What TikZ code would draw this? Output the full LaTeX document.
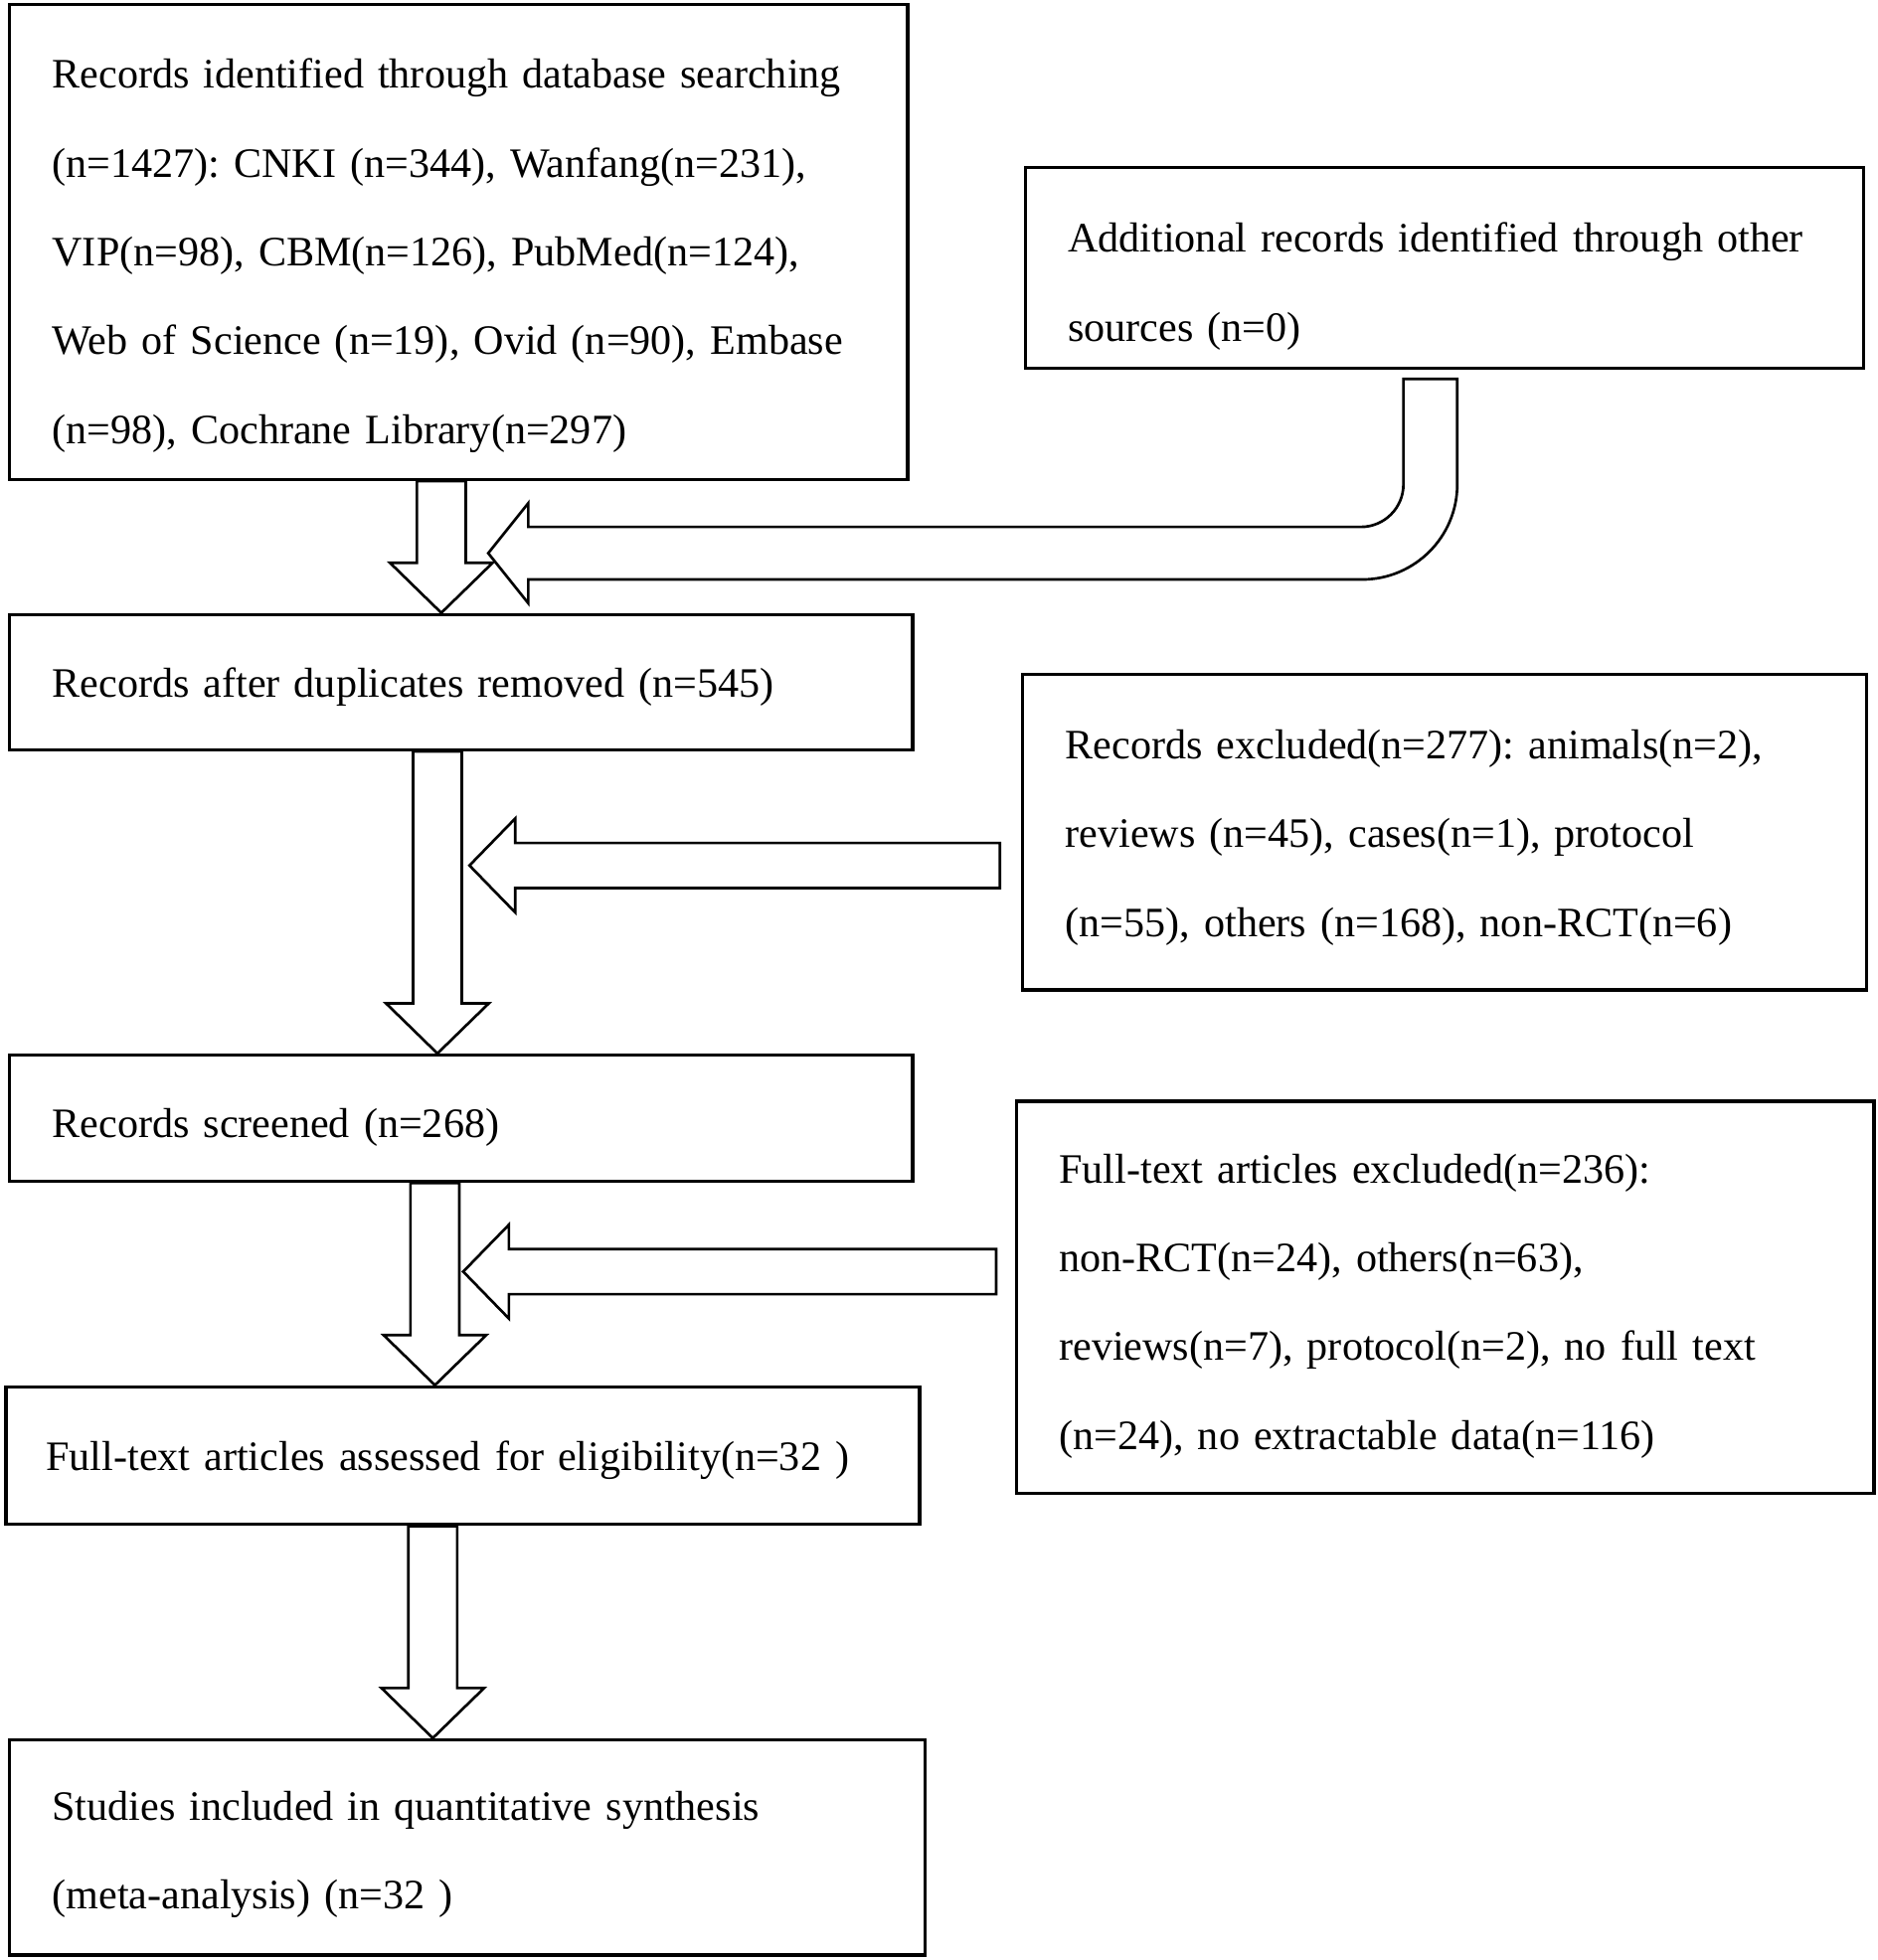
\documentclass[tikz,border=0pt]{standalone}
\usepackage{fontspec}
\setmainfont{Liberation Serif}
\usetikzlibrary{calc}

\tikzset{
  box/.style={draw, line width=0.75pt, align=left, inner xsep=3.4mm, inner ysep=0pt,
    font=\fontsize{9.52}{20.2}\selectfont\frenchspacing},
  blockarrow/.style={draw, fill=white, line width=0.6pt, line join=miter}
}

\newcommand{\blockdown}[2]{%
  \draw[blockarrow] let \p1=(#1), \p2=(#2) in
    (\x1-1.95mm,\y1) -- (\x1-1.95mm,\y2+4mm) -- (\x1-4.1mm,\y2+4mm) -- (\x1,\y2)
    -- (\x1+4.1mm,\y2+4mm) -- (\x1+1.95mm,\y2+4mm) -- (\x1+1.95mm,\y1) -- cycle;}
\newcommand{\blockleft}[2]{%
  \draw[blockarrow] let \p1=(#1), \p2=(#2) in
    (\x1,\y1+1.8mm) -- (\x2+3.65mm,\y1+1.8mm) -- (\x2+3.65mm,\y1+3.75mm) -- (\x2,\y1)
    -- (\x2+3.65mm,\y1-3.75mm) -- (\x2+3.65mm,\y1-1.8mm) -- (\x1,\y1-1.8mm) -- cycle;}

\begin{document}
\begin{tikzpicture}[x=1mm,y=-1mm]
  \useasboundingbox (0,0) rectangle (150,156.6);

  \node[box, text width=64.93mm, minimum height=37.95mm, text height=12.9pt] (ident) at (36.64,19.33)
    {Records identified through database searching\\
     (n=1427): CNKI (n=344), Wanfang(n=231),\\
     VIP(n=98), CBM(n=126), PubMed(n=124),\\
     Web of Science (n=19), Ovid (n=90), Embase\\
     (n=98), Cochrane Library(n=297)};
  \node[box, text width=60.15mm, minimum height=16mm, text height=15.1pt] (other) at (115.38,21.4)
    {Additional records identified through other\\ sources (n=0)};
  \node[box, text width=65.33mm, minimum height=10.8mm, text height=8.9pt] (dedup) at (36.84,54.5)
    {Records after duplicates removed (n=545)};
  \node[box, text width=60.6mm, minimum height=25.2mm, text height=8.9pt] (excl) at (115.4,66.5)
    {Records excluded(n=277): animals(n=2),\\
     reviews (n=45), cases(n=1), protocol\\
     (n=55), others (n=168), non-RCT(n=6)};
  \node[box, text width=65.33mm, minimum height=10.1mm, text height=10.6pt] (screen) at (36.84,89.35)
    {Records screened (n=268)};
  \node[box, text width=61.7mm, minimum height=31.3mm, text height=10.6pt] (ftexcl) at (115.45,103.65)
    {Full-text articles excluded(n=236):\\
     non-RCT(n=24), others(n=63),\\
     reviews(n=7), protocol(n=2), no full text\\
     (n=24), no extractable data(n=116)};
  \node[box, text width=66.58mm, minimum height=11mm, inner xsep=3.2mm, text height=8.9pt] (elig) at (36.97,116.3)
    {Full-text articles assessed for eligibility(n=32 )};
  \node[box, text width=66.33mm, minimum height=17.2mm, text height=10pt] (incl) at (37.34,147.6)
    {Studies included in quantitative synthesis\\ (meta-analysis) (n=32 )};

  \coordinate (in1) at (39.0,44.2);
  \coordinate (in2) at (37.5,69.15);
  \coordinate (in3) at (37.0,101.6);

  \blockdown{[xshift=-1.39mm]ident.south}{dedup.north}
  \draw[blockarrow] let \p1=([xshift=-1.13mm,yshift=-0.75mm]other.south), \p2=(in1) in
    (\x1-2.15mm,\y1) -- (\x1-2.15mm,\y2+5.5mm) arc[start angle=0,end angle=-90,radius=3.4mm]
    -- (\x2+3.2mm,\y2+2.1mm) -- (\x2+3.2mm,\y2+4mm) -- (\x2,\y2)
    -- (\x2+3.2mm,\y2-4mm) -- (\x2+3.2mm,\y2-2.1mm)
    -- (\x1-5.45mm,\y2-2.1mm) arc[start angle=-90,end angle=0,radius=7.6mm]
    -- (\x1+2.15mm,\y1) -- cycle;
  \blockdown{[xshift=-1.9mm]dedup.south}{screen.north}
  \blockleft{[xshift=-1.7mm,yshift=-2.65mm]excl.west}{in2}
  \blockdown{[xshift=-2.1mm]screen.south}{elig.north}
  \blockleft{[xshift=-1.5mm,yshift=2.05mm]ftexcl.west}{in3}
  \blockdown{[xshift=-2.4mm]elig.south}{incl.north}
\end{tikzpicture}
\end{document}
